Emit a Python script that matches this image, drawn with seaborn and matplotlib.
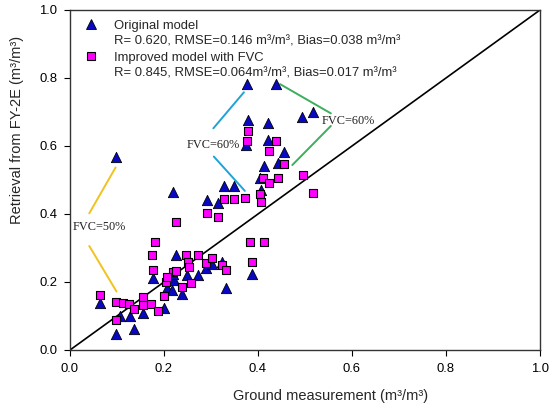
import numpy as np
import pandas as pd
import matplotlib
matplotlib.use("Agg")
import matplotlib.pyplot as plt
import seaborn as sns
from matplotlib.lines import Line2D

# ---- data ----
orig_x = [0.376, 0.438, 0.494, 0.517, 0.379, 0.421, 0.421, 0.374, 0.455, 0.443,
          0.413, 0.404, 0.406, 0.097, 0.219, 0.328, 0.349, 0.291, 0.314, 0.226,
          0.387, 0.064, 0.098, 0.107, 0.128, 0.136, 0.156, 0.200, 0.206, 0.216,
          0.238, 0.222, 0.176, 0.248, 0.272, 0.289, 0.303, 0.323, 0.331, 0.220]
orig_y = [0.782, 0.782, 0.685, 0.700, 0.676, 0.668, 0.618, 0.603, 0.583, 0.550,
          0.541, 0.506, 0.470, 0.568, 0.465, 0.482, 0.482, 0.441, 0.432, 0.279,
          0.224, 0.139, 0.046, 0.101, 0.100, 0.062, 0.108, 0.124, 0.183, 0.176,
          0.166, 0.207, 0.211, 0.220, 0.220, 0.240, 0.253, 0.260, 0.181, 0.225]

impr_x = [0.379, 0.376, 0.438, 0.423, 0.455, 0.411, 0.443, 0.423, 0.495, 0.517,
          0.404, 0.406, 0.328, 0.349, 0.372, 0.291, 0.314, 0.226, 0.180, 0.175,
          0.382, 0.413, 0.388, 0.064, 0.098, 0.112, 0.125, 0.136, 0.098, 0.156,
          0.156, 0.172, 0.188, 0.200, 0.204, 0.176, 0.220, 0.225, 0.238, 0.258,
          0.247, 0.272, 0.252, 0.254, 0.289, 0.302, 0.323, 0.331, 0.206]
impr_y = [0.644, 0.615, 0.615, 0.585, 0.546, 0.507, 0.507, 0.490, 0.515, 0.463,
          0.458, 0.436, 0.444, 0.444, 0.446, 0.402, 0.392, 0.377, 0.318, 0.279,
          0.317, 0.317, 0.260, 0.163, 0.140, 0.137, 0.136, 0.121, 0.088, 0.156,
          0.133, 0.136, 0.115, 0.159, 0.200, 0.234, 0.230, 0.232, 0.186, 0.197,
          0.278, 0.279, 0.260, 0.245, 0.257, 0.270, 0.250, 0.234, 0.216]

series_names = ["Original model", "Improved model with FVC"]
stats_labels = ["R= 0.620, RMSE=0.146 m\u00b3/m\u00b3, Bias=0.038 m\u00b3/m\u00b3",
                "R= 0.845, RMSE=0.064m\u00b3/m\u00b3, Bias=0.017 m\u00b3/m\u00b3"]
ticks = [0.0, 0.2, 0.4, 0.6, 0.8, 1.0]
tick_labels = ["0.0", "0.2", "0.4", "0.6", "0.8", "1.0"]

# annotation guides (FVC groups)
fvc_texts = ["FVC=50%", "FVC=60%", "FVC=60%"]

BLUE = "#0808c4"
MAGENTA = "#ff00ff"

sns.set_style("ticks")
plt.rcParams['font.family'] = ['Liberation Sans', 'DejaVu Sans']

fig = plt.figure(figsize=(5.5, 4.09), dpi=100)
ax = fig.add_axes([70/550, 1-350/409, 470/550, 340/409])

df_o = pd.DataFrame({"x": orig_x, "y": orig_y, "model": series_names[0]})
df_i = pd.DataFrame({"x": impr_x, "y": impr_y, "model": series_names[1]})

ax.plot([0, 1], [0, 1], color="black", lw=1.2, zorder=2)

sns.scatterplot(data=df_o, x="x", y="y", marker="^", color=BLUE, s=55,
                edgecolor="black", linewidth=0.6, ax=ax, zorder=3, legend=False)
sns.scatterplot(data=df_i, x="x", y="y", marker="s", color=MAGENTA, s=38,
                edgecolor="black", linewidth=0.8, ax=ax, zorder=4, legend=False)

# FVC guide lines
ax.plot([0.041, 0.097], [0.402, 0.537], color="#f2c21e", lw=1.4, zorder=1)
ax.plot([0.041, 0.099], [0.306, 0.172], color="#f2c21e", lw=1.4, zorder=1)
ax.plot([0.305, 0.370], [0.652, 0.758], color="#1fa3d6", lw=1.4, zorder=1)
ax.plot([0.306, 0.372], [0.569, 0.468], color="#1fa3d6", lw=1.4, zorder=1)
ax.plot([0.447, 0.555], [0.782, 0.696], color="#3cae5c", lw=1.4, zorder=1)
ax.plot([0.555, 0.473], [0.659, 0.544], color="#3cae5c", lw=1.4, zorder=1)

serif = ['Liberation Serif', 'DejaVu Serif']
ax.text(0.006, 0.363, fvc_texts[0], family=serif, fontsize=8.8, va="center", ha="left", color="#222222")
ax.text(0.248, 0.603, fvc_texts[1], family=serif, fontsize=8.8, va="center", ha="left", color="#222222")
ax.text(0.535, 0.674, fvc_texts[2], family=serif, fontsize=8.8, va="center", ha="left", color="#222222")

ax.set_xlim(0, 1)
ax.set_ylim(0, 1)
ax.set_xticks(ticks)
ax.set_xticklabels(tick_labels)
ax.set_yticks(ticks)
ax.set_yticklabels(tick_labels)
ax.tick_params(axis="both", direction="out", length=4, width=0.8, labelsize=9.4,
               colors="black", pad=5)
ax.tick_params(top=False, right=False)
for sp in ax.spines.values():
    sp.set_visible(True)
    sp.set_color("#333333")
    sp.set_linewidth(1.0)

ax.set_xlabel("Ground measurement (m\u00b3/m\u00b3)", fontsize=10.5)
ax.set_ylabel("Retrieval from FY-2E (m\u00b3/m\u00b3)", fontsize=10.5)
ax.xaxis.set_label_coords(0.555, -0.115)
ax.yaxis.set_label_coords(-0.098, 0.647)

h_tri = Line2D([], [], marker="^", linestyle="none", markerfacecolor=BLUE,
               markeredgecolor="black", markersize=7, markeredgewidth=0.6)
h_sq = Line2D([], [], marker="s", linestyle="none", markerfacecolor=MAGENTA,
              markeredgecolor="black", markersize=6, markeredgewidth=0.8)
h_blank = Line2D([], [], linestyle="none")
leg = ax.legend([h_tri, h_blank, h_sq, h_blank],
                [series_names[0], stats_labels[0], series_names[1], stats_labels[1]],
                loc="upper left", bbox_to_anchor=(0.009, 1.0),
                frameon=False, fontsize=9.4, labelspacing=0.28,
                handlelength=1.0, handletextpad=1.27, borderpad=0.4,
                borderaxespad=0.35)

fig.savefig("out.png", dpi=100)
